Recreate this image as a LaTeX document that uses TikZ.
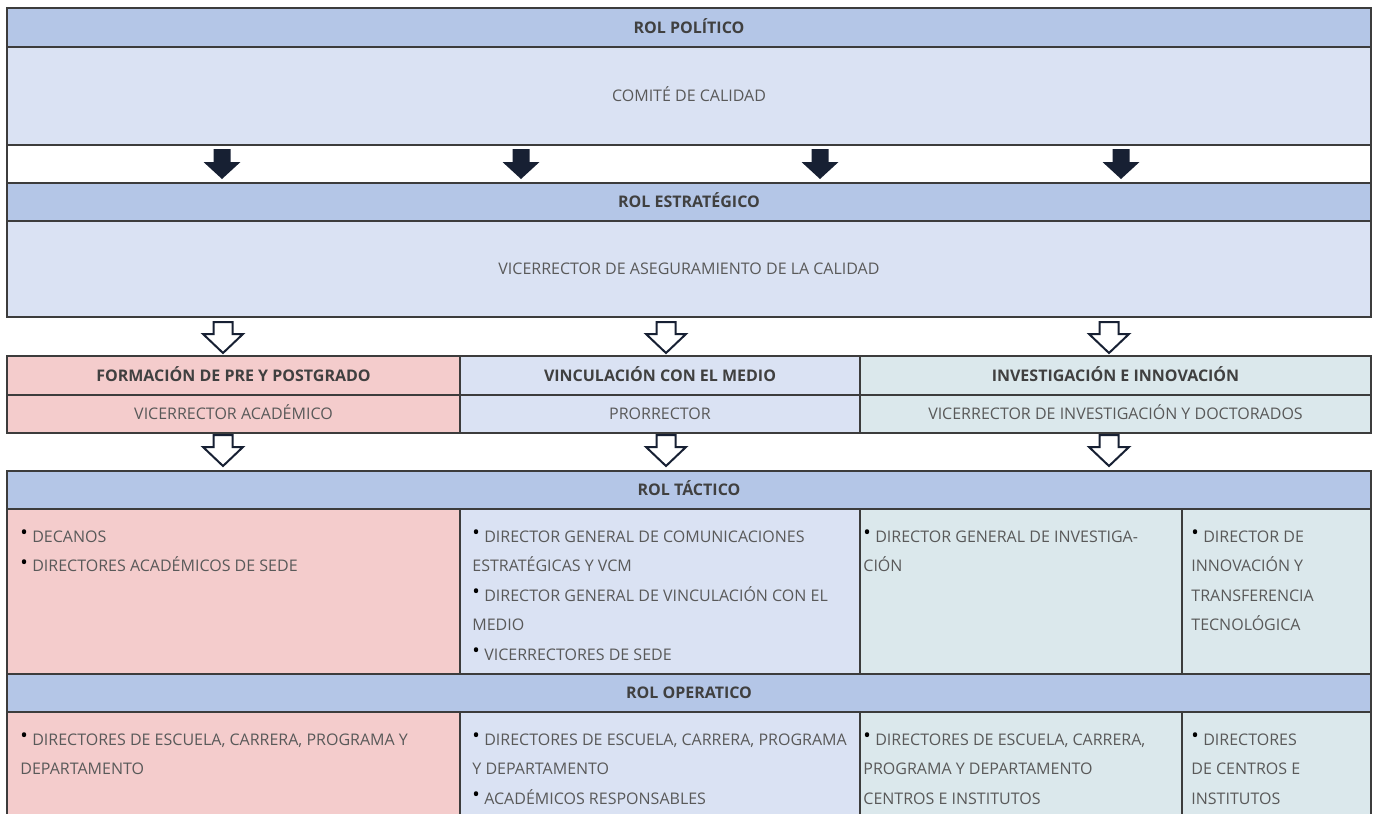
\documentclass[tikz,border=0pt]{standalone}
\usepackage{fontspec}
\setmainfont{Open Sans}
\usetikzlibrary{positioning,calc}
\definecolor{hdrblue}{HTML}{B4C6E7}
\definecolor{paleblue}{HTML}{DAE2F3}
\definecolor{palepink}{HTML}{F4CCCC}
\definecolor{paleteal}{HTML}{DBE8EC}
\definecolor{inkgray}{HTML}{595959}
\definecolor{headgray}{HTML}{404040}
\definecolor{rulegray}{HTML}{3C3C3C}
\definecolor{dividergray}{HTML}{6A6A6A}
\definecolor{arrownavy}{HTML}{172033}
\newcommand\itm{{\color{black}\fontsize{10}{10}\selectfont\raisebox{1.2pt}{•}}\hspace{2.2pt}}
\tikzset{cell/.style={draw=rulegray, line width=0.7pt, rectangle, anchor=north west,
		inner sep=0pt, outer sep=0pt, text=inkgray, font=\fontsize{8}{10}\selectfont,
		text height=5.7pt, text depth=0pt},
	headcell/.style={cell, fill=hdrblue, text=headgray, font=\fontsize{8}{10}\selectfont\bfseries},
	bodycell/.style={cell, fill=paleblue},
	bodytext/.style={anchor=north west, inner sep=0pt, align=left, text=inkgray,
		font=\fontsize{8}{14.75}\selectfont, execute at begin node={\rule{0pt}{8pt}}},
	solidarrow/.pic={\fill[arrownavy] (-8.5,0) -- (8.5,0) -- (8.5,13) -- (18.5,13) -- (0,30)
		-- (-18.5,13) -- (-8.5,13) -- cycle;},
	openarrow/.pic={\draw[arrownavy, fill=white, line width=1pt, line join=miter] (-9.5,0)
		-- (9.5,0) -- (9.5,12) -- (20,12) -- (0,31) -- (-20,12) -- (-9.5,12) -- cycle;}}

\begin{document}
\begin{tikzpicture}[x=0.5pt, y=-0.5pt]
	\useasboundingbox (0,0) rectangle (1373,814);
	% rol politico y estrategico
	\node[headcell, minimum width=682pt, minimum height=19.5pt] (polhead) at (7,8) {ROL POLÍTICO};
	\node[bodycell, minimum width=682pt, minimum height=49pt] (polbody) at (polhead.south west) {COMITÉ DE CALIDAD};
	\node[cell, fill=white, minimum width=682pt, minimum height=19pt] (gaprow) at (polbody.south west) {};
	\node[headcell, minimum width=682pt, minimum height=19pt] (esthead) at (gaprow.south west) {ROL ESTRATÉGICO};
	\node[bodycell, minimum width=682pt, minimum height=48pt] (estbody) at (esthead.south west) {VICERRECTOR DE ASEGURAMIENTO DE LA CALIDAD};
	\foreach \x in {222,521,820,1121}
	\pic at (\x,149) {solidarrow};
	
	% areas
	\node[headcell, fill=palepink, minimum width=226.5pt, minimum height=19.5pt] (forhead) at ([yshift=-19.5pt]estbody.south west) {FORMACIÓN DE PRE Y POSTGRADO};
	\node[headcell, fill=paleblue, minimum width=200pt, minimum height=19.5pt] (vinhead) at (forhead.north east) {VINCULACIÓN CON EL MEDIO};
	\node[headcell, fill=paleteal, minimum width=255.5pt, minimum height=19.5pt] (invhead) at (vinhead.north east) {INVESTIGACIÓN E INNOVACIÓN};
	\node[cell, fill=palepink, minimum width=226.5pt, minimum height=19pt] (forsub) at (forhead.south west) {VICERRECTOR ACADÉMICO};
	\node[cell, fill=paleblue, minimum width=200pt, minimum height=19pt] (vinsub) at (vinhead.south west) {PRORRECTOR};
	\node[cell, fill=paleteal, minimum width=255.5pt, minimum height=19pt] (invsub) at (invhead.south west) {VICERRECTOR DE INVESTIGACIÓN Y DOCTORADOS};
	\foreach \x in {223,666,1109}
	{\pic at (\x,322) {openarrow};
		\pic at (\x,435) {openarrow};}
	
	% rol tactico
	\node[headcell, minimum width=682pt, minimum height=19pt] (tachead) at ([yshift=-19pt]forsub.south west) {ROL TÁCTICO};
	\node[cell, fill=palepink, minimum width=226.5pt, minimum height=82.5pt] (tac1) at (tachead.south west) {};
	\node[cell, fill=paleblue, minimum width=200pt, minimum height=82.5pt] (tac2) at (tac1.north east) {};
	\node[cell, fill=paleteal, minimum width=161pt, minimum height=82.5pt] (tac3) at (tac2.north east) {};
	\node[cell, fill=paleteal, minimum width=94.5pt, minimum height=82.5pt] (tac4) at (tac3.north east) {};
	\node[bodytext] (tac1txt) at ([xshift=6.5pt, yshift=-10.4pt]tac1.north west)
	{\itm DECANOS\\ \itm DIRECTORES ACADÉMICOS DE SEDE};
	\node[bodytext] (tac2txt) at ([xshift=6pt, yshift=-10.4pt]tac2.north west)
	{\itm DIRECTOR GENERAL DE COMUNICACIONES\\ ESTRATÉGICAS Y VCM\\ \itm DIRECTOR GENERAL DE VINCULACIÓN CON EL\\ MEDIO\\ \itm VICERRECTORES DE SEDE};
	\node[bodytext] (tac3txt) at ([xshift=1.5pt, yshift=-10.4pt]tac3.north west)
	{\itm DIRECTOR GENERAL DE INVESTIGA-\\ CIÓN};
	\node[bodytext] (tac4txt) at ([xshift=4.5pt, yshift=-10.4pt]tac4.north west)
	{\itm DIRECTOR DE\\ INNOVACIÓN Y\\ TRANSFERENCIA\\ TECNOLÓGICA};
	
	% rol operatico
	\node[headcell, minimum width=682pt, minimum height=19pt] (ophead) at (tac1.south west) {ROL OPERATICO};
	\node[cell, fill=palepink, minimum width=226.5pt, minimum height=56pt] (op1) at (ophead.south west) {};
	\node[cell, fill=paleblue, minimum width=200pt, minimum height=56pt] (op2) at (op1.north east) {};
	\node[cell, fill=paleteal, minimum width=161pt, minimum height=56pt] (op3) at (op2.north east) {};
	\node[cell, fill=paleteal, minimum width=94.5pt, minimum height=56pt] (op4) at (op3.north east) {};
	\node[bodytext] (op1txt) at ([xshift=6.5pt, yshift=-10.4pt]op1.north west)
	{\itm DIRECTORES DE ESCUELA, CARRERA, PROGRAMA Y\\ DEPARTAMENTO};
	\node[bodytext] (op2txt) at ([xshift=6pt, yshift=-10.4pt]op2.north west)
	{\itm DIRECTORES DE ESCUELA, CARRERA, PROGRAMA\\ Y DEPARTAMENTO\\ \itm ACADÉMICOS RESPONSABLES};
	\node[bodytext] (op3txt) at ([xshift=1.5pt, yshift=-10.4pt]op3.north west)
	{\itm DIRECTORES DE ESCUELA, CARRERA,\\ PROGRAMA Y DEPARTAMENTO\\ CENTROS E INSTITUTOS};
	\node[bodytext] (op4txt) at ([xshift=4.5pt, yshift=-10.4pt]op4.north west)
	{\itm DIRECTORES\\ DE CENTROS E\\ INSTITUTOS};
\end{tikzpicture}
\end{document}
